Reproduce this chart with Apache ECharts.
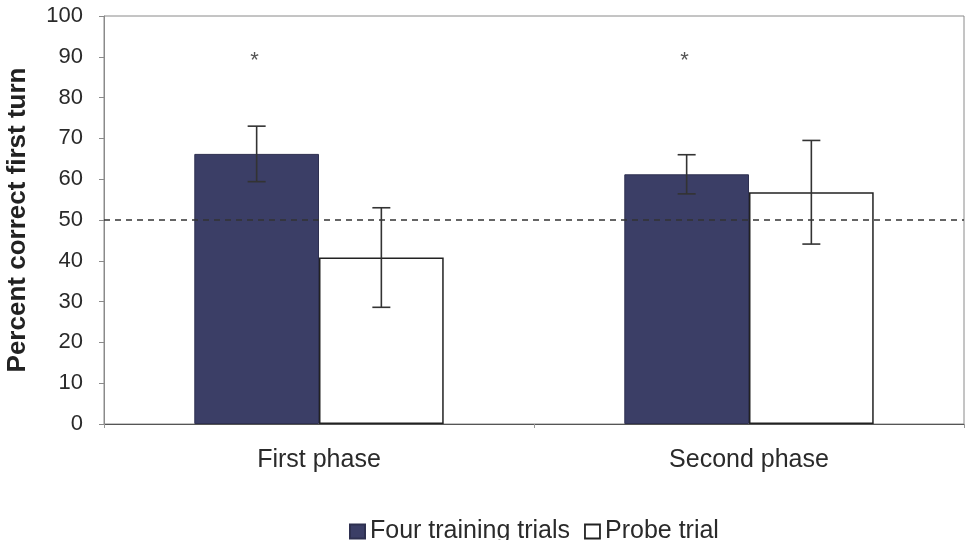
<!DOCTYPE html>
<html><head><meta charset="utf-8">
<script src="https://cdn.jsdelivr.net/npm/echarts@6/dist/echarts.min.js"></script>
<style>html,body{margin:0;padding:0;background:#fff}#c{width:966px;height:540px}</style>
</head><body><div id="c"></div>
<script>
var categories = ['First phase', 'Second phase'];
var trainingValues = [66.2, 61.2];
var trainingErr = [6.8, 4.8];
var probeValues = [40.8, 56.8];
var probeErr = [12.2, 12.7];
var chanceLevel = 50;
var asteriskValues = [89, 89];
var yTicks = [0, 10, 20, 30, 40, 50, 60, 70, 80, 90, 100];

var FONT = 'Liberation Sans, Arial, sans-serif';
var BAR_FRAC = 0.29;

function errSeries(vals, errs, side) {
  var data = vals.map(function (v, i) { return [i, v, errs[i]]; });
  return {
    type: 'custom', silent: true, z: 5,
    data: data,
    renderItem: function (params, api) {
      var i = api.value(0), v = api.value(1), e = api.value(2);
      var band = api.size([1, 0])[0];
      var cx = api.coord([i, v])[0] + side * band * BAR_FRAC / 2;
      var top = api.coord([i, v + e])[1];
      var bot = api.coord([i, v - e])[1];
      var hw = 9;
      var st = { stroke: '#333', lineWidth: 1.6 };
      return { type: 'group', children: [
        { type: 'line', shape: { x1: cx, y1: top, x2: cx, y2: bot }, style: st },
        { type: 'line', shape: { x1: cx - hw, y1: top, x2: cx + hw, y2: top }, style: st },
        { type: 'line', shape: { x1: cx - hw, y1: bot, x2: cx + hw, y2: bot }, style: st }
      ]};
    }
  };
}

var chart = echarts.init(document.getElementById('c'));
chart.setOption({
  animation: false,
  textStyle: { fontFamily: FONT },
  grid: { left: 104, right: 2, top: 16, bottom: 116, show: true, borderColor: '#8a8a8a', borderWidth: 1,
          containLabel: false, outerBoundsMode: 'none' },
  legend: {
    top: 514, left: 344, itemWidth: 15, itemHeight: 14, itemGap: 14,
    textStyle: { fontSize: 25, color: '#2a2a2a', fontFamily: FONT },
    data: [
      { name: 'Four training trials', icon: 'rect' },
      { name: 'Probe trial', icon: 'rect', itemStyle: { color: '#fff', borderColor: '#222', borderWidth: 1.8 } }
    ]
  },
  xAxis: {
    type: 'category', data: categories,
    axisLine: { lineStyle: { color: '#555', width: 1 } },
    axisTick: { show: true, length: 4, lineStyle: { color: '#999' } },
    axisLabel: { fontSize: 25, color: '#2a2a2a', margin: 24 }
  },
  yAxis: {
    type: 'value', min: 0, max: 100, interval: 10,
    name: 'Percent correct first turn', nameLocation: 'middle', nameGap: 73,
    nameTextStyle: { fontSize: 26, fontWeight: 'bold', color: '#222' },
    axisLine: { show: true, lineStyle: { color: '#8a8a8a' } },
    axisTick: { show: true, length: 5, lineStyle: { color: '#8a8a8a' } },
    splitLine: { show: false },
    axisLabel: { fontSize: 22, color: '#2a2a2a', margin: 21,
      formatter: function (v) { return yTicks.indexOf(v) >= 0 ? String(v) : ''; } }
  },
  series: [
    {
      name: 'Four training trials', type: 'bar', data: trainingValues,
      barWidth: (BAR_FRAC * 100) + '%', barGap: '0%',
      itemStyle: { color: '#3b3e66', borderColor: '#2e3050', borderWidth: 1 },
      markLine: {
        silent: true, symbol: 'none', label: { show: false },
        lineStyle: { type: [6, 5], color: '#333', width: 1.6 },
        data: [{ yAxis: chanceLevel }]
      }
    },
    {
      name: 'Probe trial', type: 'bar', data: probeValues,
      barWidth: (BAR_FRAC * 100) + '%',
      itemStyle: { color: '#fff', borderColor: '#222', borderWidth: 1.5 }
    },
    errSeries(trainingValues, trainingErr, -1),
    errSeries(probeValues, probeErr, 1),
    {
      type: 'custom', silent: true, z: 6,
      data: asteriskValues.map(function (v, i) { return [i, v]; }),
      renderItem: function (params, api) {
        var band = api.size([1, 0])[0];
        var p = api.coord([api.value(0), api.value(1)]);
        return { type: 'text', style: { x: p[0] - band * BAR_FRAC / 2 - 2, y: p[1], text: '*',
          fill: '#555', font: '22px ' + FONT, align: 'center', verticalAlign: 'middle' } };
      }
    }
  ]
});
</script></body></html>
